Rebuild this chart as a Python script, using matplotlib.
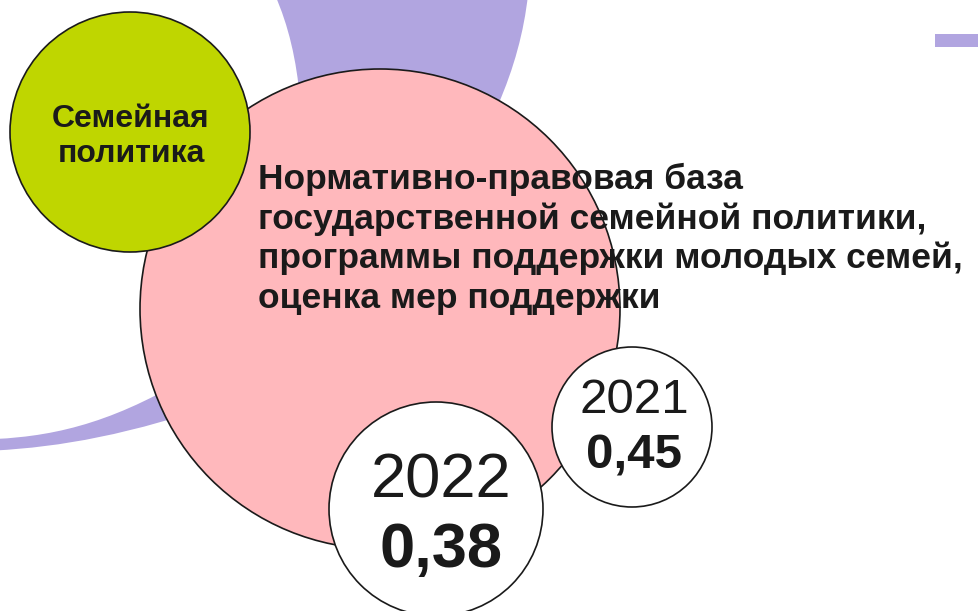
import matplotlib
matplotlib.use("Agg")
import matplotlib.pyplot as plt
from matplotlib.patches import Circle, PathPatch, Rectangle
from matplotlib.path import Path

# data
TOPIC = ["Семейная", "политика"]
HEADLINE = ["Нормативно-правовая база",
            "государственной семейной политики,",
            "программы поддержки молодых семей,",
            "оценка мер поддержки"]
YEARS = ["2022", "2021"]
SCORES = [0.38, 0.45]

PURPLE = "#B1A5E0"
PINK = "#FFB8BC"
GREEN = "#BFD600"
INK = "#1A1A1A"
FONT = "Liberation Sans"

W, H = 979, 611
fig = plt.figure(figsize=(W / 100, H / 100), dpi=100)
ax = fig.add_axes([0, 0, 1, 1])
ax.set_xlim(0, W)
ax.set_ylim(H, 0)
ax.axis("off")

# purple swoosh pieces, most of it hidden behind the pink circle
C3, C4, L = Path.CURVE3, Path.CURVE4, Path.LINETO
top_band = Path([(275, -5), (295, 40), (300, 100), (380, 200), (498, 105), (522, 50), (528, -5), (275, -5)],
                [Path.MOVETO, C3, C3, L, L, C3, C3, Path.CLOSEPOLY])
ax.add_patch(PathPatch(top_band, facecolor=PURPLE, edgecolor="none", zorder=1))
tail = Path([(-5, 439), (60, 436), (120, 420), (200, 370), (230, 400),
             (130, 435), (60, 447), (-5, 450.5), (-5, 439)],
            [Path.MOVETO, C4, C4, C4, L, C4, C4, C4, Path.CLOSEPOLY])
ax.add_patch(PathPatch(tail, facecolor=PURPLE, edgecolor="none", zorder=1))
ax.add_patch(Rectangle((935, 34), 50, 13, facecolor=PURPLE, edgecolor="none", zorder=1))

# big pink circle with the headline
ax.add_patch(Circle((380, 309), 240, facecolor=PINK, edgecolor=INK, linewidth=1.2, zorder=2))
for i, line in enumerate(HEADLINE):
    ax.text(258, 189 + i * 39.7, line, fontsize=25.5, fontweight="bold", color=INK,
            family=FONT, ha="left", va="baseline", zorder=5)

# green topic circle
ax.add_patch(Circle((130, 132), 120, facecolor=GREEN, edgecolor=INK, linewidth=1.2, zorder=3))
for i, line in enumerate(TOPIC):
    ax.text(131, 127 + i * 35, line, fontsize=23, fontweight="bold", color=INK, family=FONT,
            ha="center", va="baseline", zorder=5)

# year bubbles: (circle centre, radius, text x, year baseline, value baseline, font size)
bubbles = [((436, 509), 107, 441, 497, 567, 45.5),
           ((632, 427), 80, 634, 413, 468, 35.5)]
for yr, val, ((cx, cy), r, tx, yb, vb, fs) in zip(YEARS, SCORES, bubbles):
    ax.add_patch(Circle((cx, cy), r, facecolor="white", edgecolor=INK, linewidth=1.2, zorder=4))
    ax.text(tx, yb, yr, fontsize=fs, color=INK, family=FONT,
            ha="center", va="baseline", zorder=5)
    ax.text(tx, vb, f"{val:.2f}".replace(".", ","), fontsize=fs, fontweight="bold",
            color=INK, family=FONT, ha="center", va="baseline", zorder=5)

fig.savefig("out.png", dpi=100, facecolor="white")
